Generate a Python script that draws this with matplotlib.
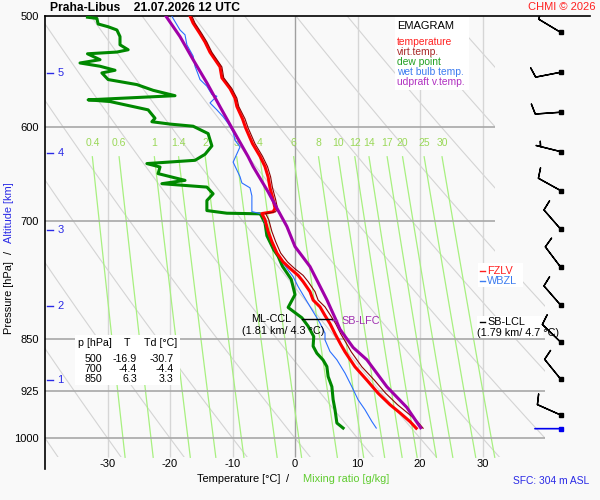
import numpy as np
import matplotlib
matplotlib.use('Agg')
import matplotlib.pyplot as plt
from matplotlib.patches import Polygon, Rectangle
from matplotlib.ticker import NullLocator

plt.rcParams['font.family'] = ['Liberation Sans', 'DejaVu Sans']

# 温度 (红线) 与虚温 (暗红细线), 同一组气压层
temp_p = [500, 505.9, 514.8, 521.8, 530.7, 543.6, 553.4, 563.3, 572.2, 580.1, 592.0,
          600.8, 616.6, 629.5, 640.3, 651.2, 663.0, 675.8, 685.7, 689.6, 691.6, 698.5,
          712.3, 724.2, 737.9, 748.8, 756.7, 765.5, 773.4, 786.2, 797.2, 806.1, 817.7,
          828.6, 842.4, 857.1, 867.9, 889.5, 909.2, 928.9, 946.6, 959.4, 973.2, 983.9]
temp_t = [-16.8, -16.3, -15.2, -14.4, -13.6, -12.0, -11.7, -10.4, -9.6, -9.3, -8.4, -7.9,
          -6.8, -5.6, -4.8, -4.3, -4.0, -3.5, -3.2, -3.5, -5.3, -4.8, -4.3, -3.7, -2.9,
          -1.9, -0.8, 0.5, 1.3, 2.4, 2.9, 4.0, 4.8, 5.6, 6.4, 7.3, 8.0, 9.6, 11.5, 13.3,
          15.2, 16.8, 18.4, 19.4]
tv_t = [-16.5, -16.0, -14.9, -14.1, -13.3, -11.7, -11.4, -10.1, -9.3, -9.0, -8.0, -7.5,
        -6.4, -5.2, -4.4, -3.9, -3.6, -3.1, -2.8, -3.1, -4.7, -4.2, -3.7, -3.1, -2.3,
        -1.2, -0.1, 1.3, 2.1, 3.2, 3.7, 4.8, 5.7, 6.5, 7.3, 8.3, 9.0, 10.7, 12.7, 14.5,
        16.4, 18.0, 19.6, 20.5]

# 露点 (绿线)
dew_p = [501.0, 502.0, 506.6, 508.9, 511.6, 517.2, 524.2, 528.5, 530.5, 532.0, 537.2,
         540.1, 543.0, 546.6, 549.0, 555.0, 559.6, 564.9, 569.9, 573.8, 575.4, 583.3,
         591.4, 594.8, 597.1, 599.2, 606.5, 618.9, 627.5, 633.7, 637.1, 640.7, 647.7,
         654.9, 658.5, 662.2, 669.5, 677.0, 688.2, 691.2, 691.9, 693.9, 702.5, 717.2,
         734.0, 741.9, 754.2, 770.5, 790.1, 806.9, 815.7, 820.7, 832.1, 846.3, 859.9,
         869.9, 879.7, 889.1, 903.8, 919.0, 938.7, 954.4, 975.5, 983.6]
dew_t = [-33.2, -31.7, -31.5, -29.9, -28.5, -28.0, -28.0, -26.7, -28.5, -33.2, -31.2,
         -34.4, -31.2, -28.8, -30.9, -29.9, -25.3, -22.7, -19.2, -33.1, -29.6, -23.5,
         -22.4, -22.9, -20.0, -16.3, -13.9, -13.3, -14.4, -16.0, -23.7, -21.6, -21.9,
         -17.6, -21.3, -14.1, -13.1, -14.1, -14.1, -10.9, -5.6, -5.4, -4.8, -4.5, -3.4,
         -2.7, -2.0, -0.6, 0.0, -1.1, 0.3, 1.1, 2.1, 3.0, 2.9, 3.5, 4.5, 5.1, 5.3, 5.9,
         6.1, 6.4, 6.7, 7.7]

# 湿球温度 (蓝线)
wb_p = [500, 502, 511.6, 515.7, 524.2, 534.0, 543.0, 550.3, 555.0, 561.1, 568.8, 570.4,
        576.7, 583.3, 589.9, 596.5, 604.8, 613.2, 619.9, 635.6, 650.9, 657.7, 663.0,
        671.8, 689.4, 692.3, 698.8, 720.8, 734.0, 744.2, 754.5, 767.0, 779.7, 794.7,
        805.7, 816.6, 827.9, 841.7, 851.1, 867.4, 879.3, 898.7, 919.1, 939.0, 954.5,
        973.1, 983.6]
wb_t = [-19.7, -19.5, -18.4, -17.6, -17.3, -16.3, -16.0, -15.5, -15.2, -14.1, -13.3,
        -12.5, -13.6, -12.5, -11.5, -10.7, -9.9, -9.6, -8.8, -9.9, -8.8, -8.5, -7.2, -6.9,
        -6.9, -5.1, -5.0, -3.9, -3.3, -2.4, -1.5, -0.3, 0.5, 1.6, 2.4, 3.2, 4.0, 4.8, 4.8,
        5.6, 6.7, 8.0, 9.1, 10.1, 11.2, 12.3, 13.0]

# 上升气块虚温 (紫线)
par_p = [499, 517.2, 537.2, 558.0, 580.3, 603.1, 629.9, 640.3, 667.4, 685.5, 706.4,
         730.1, 754.5, 796.8, 820.7, 836.4, 861.7, 879.3, 919.1, 950.9, 983.1]
par_t = [-20.8, -18.4, -16.3, -14.1, -12.0, -9.9, -7.5, -6.7, -4.3, -2.9, -1.3, 0.0,
         2.4, 5.1, 6.4, 7.2, 9.3, 11.5, 14.7, 17.9, 20.1]

# 风 (风向 deg, 风速 kt)
wind_p = [513.6, 548.4, 585.6, 624.7, 666.0, 709.5, 755.2, 803.8, 854.1, 907.6, 962.7]
wind_dir = [301, 259, 266, 284, 299, 319, 323, 319, 314, 321, 294]
wind_kt = [10, 10, 10, 5, 10, 10, 10, 10, 10, 10, 10]
sfc_p = 984.6
sfc_dir = 270

# 表格
table_p = ['500', '700', '850']
table_t = ['-16.9', '-4.4', '6.3']
table_td = ['-30.7', '-4.4', '3.3']

# 高度刻度
alt_km = [1, 2, 3, 4, 5]
alt_p = [909, 804.7, 710.4, 625.7, 549]

# 底图线
isobars = [600, 700, 850, 925, 1000]
isotherms = [-30, -20, -10, 0, 10, 20, 30]
theta_c = list(range(-40, 160, 10))
mix_ratio = [0.4, 0.6, 1, 1.4, 2, 3, 4, 6, 8, 10, 12, 14, 17, 20, 25, 30]
mix_labels = ['0.4', '0.6', '1', '1.4', '2', '3', '4', '6', '8', '10', '12', '14',
              '17', '20', '25', '30']
p_ticks = [500, 600, 700, 850, 925, 1000]
t_ticks = [-30, -20, -10, 0, 10, 20, 30]

BG = '#f9f9f9'
BLUE = '#2a2ae6'
P_BOT = 1032


def fxy(x, y):
    # 像素 -> figure 坐标
    return x / 600, 1 - y / 500


fig = plt.figure(figsize=(6, 5), dpi=100, facecolor=BG)
ax = fig.add_axes([45 / 600, 31 / 500, 545 / 600, 453 / 500], facecolor=BG)
ax.set_yscale('log')
ax.set_xlim(-40, 47.2)
ax.set_ylim(1052, 500)
ax.yaxis.set_minor_locator(NullLocator())
ax.set_yticks(p_ticks)
ax.set_yticklabels([str(p) for p in p_ticks])
ax.set_xticks(t_ticks)
ax.set_xticklabels([str(t) for t in t_ticks])
ax.tick_params(axis='y', length=0, pad=4.3, labelsize=8)
ax.tick_params(axis='x', length=0, pad=-7.3, labelsize=8)
for s in ['right', 'bottom']:
    ax.spines[s].set_visible(False)
for s in ['left', 'top']:
    ax.spines[s].set_linewidth(1.2)

clip = Polygon([(-40, 500), (32, 500), (32, 750), (40, 750), (40, P_BOT), (-40, P_BOT)],
               closed=True, transform=ax.transData, fc='none', ec='none')

# 干绝热线
pp = np.geomspace(500, P_BOT, 150)
for th in theta_c:
    tt = (th + 273.15) * (pp / 1000) ** 0.2857 - 273.15
    ln, = ax.plot(tt, pp, color='#d4d4d4', lw=0.8, zorder=1)
    ln.set_clip_path(clip)

# 等温线 / 等压线
iso_c = ['#a0a0a0' if t == 0 else '#d6d6d6' for t in isotherms]
ax.vlines(isotherms, 500, P_BOT, colors=iso_c, lw=1.0, zorder=1)
hl = ax.hlines(isobars, -40, 40, colors='#a8a8a8', lw=1.2, zorder=1.5)
hl.set_clip_path(clip)

# 混合比线
pm = np.geomspace(630, P_BOT, 60)
for w, lab in zip(mix_ratio, mix_labels):
    e = w * pm / (622 + w)
    a = np.log(e / 6.112)
    td = 243.5 * a / (17.67 - a)
    ax.plot(td, pm, color='#a8f080', lw=0.9, zorder=1.2)
    ax.text(td[0], 616, lab, color='#9ad858', ha='center', va='center', fontsize=7.5)

# 高度刻度
ytr = ax.get_yaxis_transform()
for km, p in zip(alt_km, alt_p):
    ax.plot([0.004, 0.015], [p, p], color=BLUE, lw=1, transform=ytr)
    ax.text(0.023, p, str(km), color=BLUE, fontsize=8, va='center', transform=ytr)

# 廓线
ax.plot(dew_t, dew_p, color='#008800', lw=2.2, zorder=4)
ax.plot(wb_t, wb_p, color='#2a6fff', lw=0.8, zorder=5)
ax.plot(temp_t, temp_p, color='#ff0000', lw=2.2, zorder=6)
ax.plot(tv_t, temp_p, color='#8c0000', lw=0.8, zorder=7)
ax.plot(par_t, par_p, color='#a000a8', lw=2.2, zorder=8)

# 风羽
wd = np.radians(wind_dir)
u = -np.array(wind_kt) * np.sin(wd)
v = -np.array(wind_kt) * np.cos(wd)
bx = np.full(len(wind_p), 42.5)
ax.barbs(bx, wind_p, u, v, length=6.05, linewidth=1, color='k', zorder=9)
ax.plot(bx, wind_p, 's', ms=2.6, color='k', zorder=10)
sd = np.radians(sfc_dir)
ax.annotate('', xy=(42.5, sfc_p), xytext=(25.7 * np.sin(sd), 25.7 * np.cos(sd)),
            textcoords='offset pixels',
            arrowprops=dict(arrowstyle='-', color='#0000ee', lw=1.2, shrinkA=0, shrinkB=0),
            zorder=9)
ax.plot([42.5], [sfc_p], 's', ms=2.6, color='#0000ee', zorder=10)

ftr = fig.transFigure

# 图例
ax.add_patch(Rectangle(fxy(395, 90), 74 / 600, 74 / 500, transform=ftr,
                       fc='white', ec='none', zorder=2))
ax.text(*fxy(397, 26), 'EMAGRAM', fontsize=8, va='center', transform=ftr, zorder=11)
leg_labels = ['temperature', 'virt.temp.', 'dew point', 'wet bulb temp.', 'udpraft v.temp.']
leg_colors = ['#ff2020', '#a82828', '#22a022', '#3c7cf0', '#b030c0']
for i, (lab, c) in enumerate(zip(leg_labels, leg_colors)):
    ax.text(*fxy(397, 42.3 + 10 * i), lab, color=c, fontsize=7.4, va='center',
            transform=ftr, zorder=11)

# 表格
ax.add_patch(Rectangle(fxy(75, 385), 105 / 600, 50 / 500, transform=ftr,
                       fc='white', ec='none', zorder=2))
ax.text(*fxy(78, 343.5), 'p [hPa]', fontsize=7.7, va='center', transform=ftr, zorder=11)
ax.text(*fxy(127.5, 343.5), 'T', fontsize=7.7, va='center', ha='center', transform=ftr, zorder=11)
ax.text(*fxy(144, 343.5), 'Td [°C]', fontsize=7.7, va='center', transform=ftr, zorder=11)
for i in range(len(table_p)):
    y = 358.7 + 10.2 * i
    ax.text(*fxy(102, y), table_p[i], fontsize=7.7, va='center', ha='right', transform=ftr, zorder=11)
    ax.text(*fxy(137, y), table_t[i], fontsize=7.7, va='center', ha='right', transform=ftr, zorder=11)
    ax.text(*fxy(173.5, y), table_td[i], fontsize=7.7, va='center', ha='right', transform=ftr, zorder=11)

# FZLV / WBZL
ax.add_patch(Rectangle(fxy(478, 287), 45 / 600, 24 / 500, transform=ftr,
                       fc='white', ec='none', zorder=2))
for y, lab, c in [(270.7, 'FZLV', '#ff2020'), (281, 'WBZL', '#3c7cf0')]:
    ax.plot([480 / 600, 485 / 600], [1 - y / 500] * 2, color=c, lw=1, transform=ftr, zorder=11)
    ax.text(*fxy(487, y), lab, color=c, fontsize=7.8, va='center', transform=ftr, zorder=11)

# SB-LCL
ax.add_patch(Rectangle(fxy(477, 338), 66 / 600, 22 / 500, transform=ftr,
                       fc='white', ec='none', zorder=2))
ax.plot([480 / 600, 485 / 600], [1 - 322.3 / 500] * 2, color='k', lw=1, transform=ftr, zorder=11)
ax.text(*fxy(487, 322.3), 'SB-LCL', fontsize=7.8, va='center', transform=ftr, zorder=11)
ax.text(*fxy(477.3, 333.3), '(1.79 km/ 4.7 °C)', fontsize=7.8, va='center', transform=ftr, zorder=11)

# ML-CCL / SB-LFC
ax.plot([301.7 / 600, 331.7 / 600], [1 - 319 / 500] * 2, color='k', lw=1, transform=ftr, zorder=11)
ax.plot([331.7 / 600, 337 / 600], [1 - 320 / 500] * 2, color='#a030b0', lw=1, transform=ftr, zorder=11)
ax.text(*fxy(291.7, 319.3), 'ML-CCL', fontsize=7.8, va='center', ha='right', transform=ftr, zorder=11)
ax.text(*fxy(241.7, 330.7), '(1.81 km/ 4.3 °C)', fontsize=7.8, va='center', transform=ftr, zorder=11)
ax.text(*fxy(341.7, 321.5), 'SB-LFC', fontsize=7.8, va='center', color='#a030b0',
        transform=ftr, zorder=11)

# 标题与轴标签
fig.text(*fxy(50, 8), 'Praha-Libus    21.07.2026 12 UTC', fontsize=8.7,
         fontweight='bold', va='center')
fig.text(*fxy(596, 7), 'CHMI © 2026', color='#ff2020', fontsize=8, ha='right', va='center')
fig.text(*fxy(197.3, 479.5), 'Temperature [°C]', fontsize=7.9, va='center')
fig.text(*fxy(286, 479.5), '/', fontsize=7.9, va='center')
fig.text(*fxy(302.7, 479.5), 'Mixing ratio [g/kg]', fontsize=7.9, va='center', color='#60cc30')
fig.text(*fxy(589, 481), 'SFC: 304 m ASL', fontsize=7.4, va='center', ha='right', color=BLUE)
fig.text(*fxy(9, 298), 'Pressure [hPa]', fontsize=7.9, rotation=90, ha='center', va='center')
fig.text(*fxy(9, 252), '/', fontsize=7.9, rotation=90, ha='center', va='center')
fig.text(*fxy(9, 212.5), 'Altitude [km]', fontsize=7.9, rotation=90, ha='center', va='center',
         color=BLUE)

fig.savefig('out.png', dpi=100, facecolor=BG)
